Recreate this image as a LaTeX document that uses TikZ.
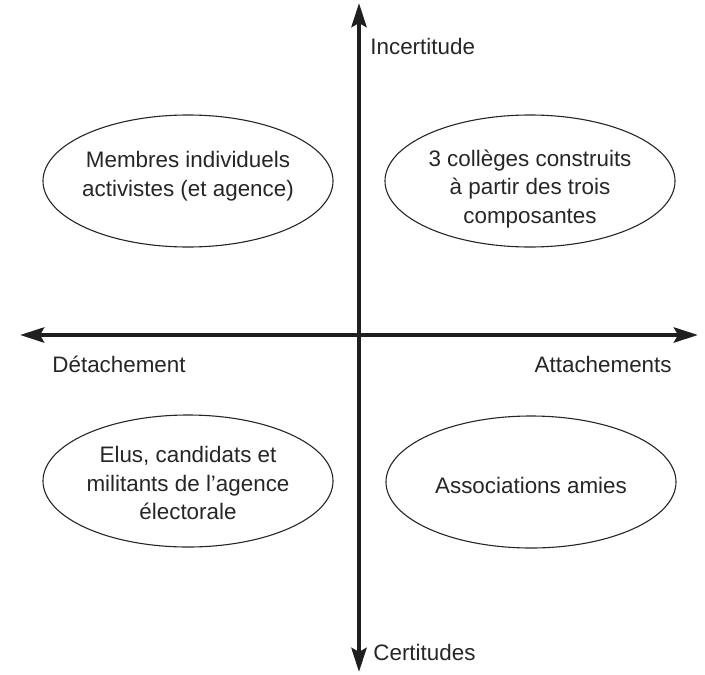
\documentclass[tikz,border=0pt]{standalone}
\usepackage{fontspec}
\setmainfont{Liberation Sans}
\usetikzlibrary{arrows.meta,shapes.geometric}
\begin{document}
\begin{tikzpicture}[x=0.5pt,y=-0.5pt,
  axisline/.style={line width=2.2pt, draw=black!88,
    {Stealth[length=12pt,width=7.5pt,inset=2pt]}-{Stealth[length=12pt,width=7.5pt,inset=2pt]}},
  blob/.style={ellipse, draw=black!85, line width=0.55pt, inner sep=0pt,
    minimum width=145pt, minimum height=66pt},
  txt/.style={align=center, text=black!85, inner sep=0pt,
    font=\fontsize{11.2}{14.25}\selectfont},
  axlabel/.style={text=black!85, inner sep=0pt,
    font=\fontsize{11.2}{14.25}\selectfont}]
\useasboundingbox (0,0) rectangle (705,674);

% axes
\coordinate (left)   at (20,335);
\coordinate (right)  at (698,335);
\coordinate (top)    at (359,3);
\coordinate (bottom) at (359,672);
\draw[axisline] (left) -- (right);
\draw[axisline] (bottom) -- (top);

% axis labels
\node[axlabel, anchor=base west] (inc) at (370,55) {Incertitude};
\node[axlabel, anchor=base west] (cert) at (373,660) {Certitudes};
\node[axlabel, anchor=base west] (det) at (52,372) {Détachement};
\node[axlabel, anchor=base east] (att) at (672,372) {Attachements};

% quadrant ellipses
\node[blob] (e1) at (188,181) {};
\node[blob] (e2) at (530,181) {};
\node[blob] (e3) at (188,481) {};
\node[blob] (e4) at (531,482) {};

\node[txt] (t1) at (188,176) {Membres individuels\\activistes (et agence)};
\node[txt] (t2) at (530,189) {3 collèges construits\\à partir des trois\\composantes};
\node[txt] (t3) at (188,483) {Elus, candidats et\\militants de l’agence\\électorale};
\node[txt] (t4) at (531,485) {Associations amies};
\end{tikzpicture}
\end{document}
